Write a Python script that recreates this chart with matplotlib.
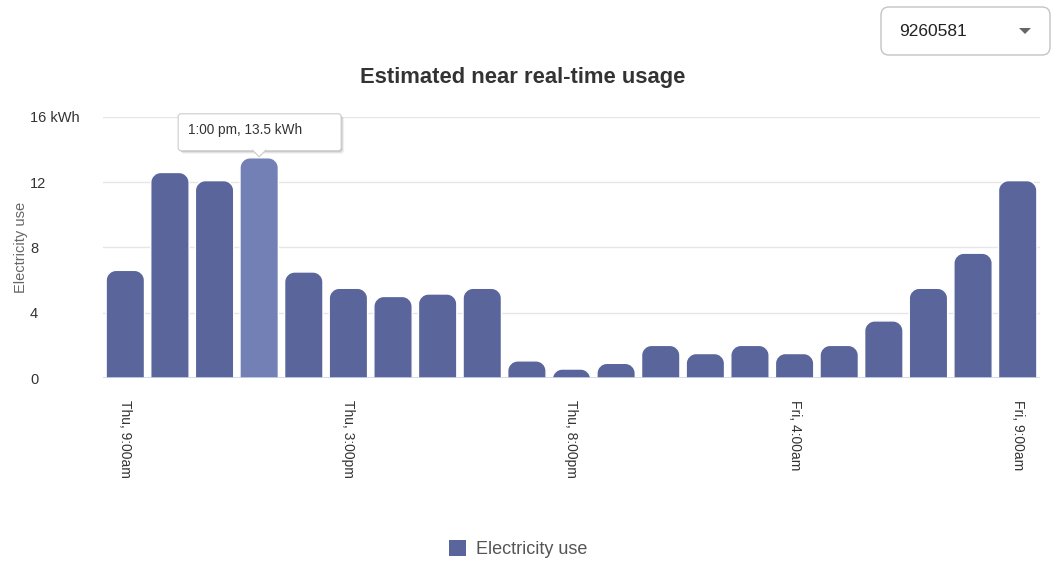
import matplotlib.pyplot as plt
from matplotlib.patches import FancyBboxPatch, Polygon, Patch, PathPatch
from matplotlib.path import Path
from matplotlib.transforms import IdentityTransform

plt.rcParams['font.family'] = ['Liberation Sans', 'DejaVu Sans']

# Data
usage = [6.6, 12.6, 12.1, 13.5, 6.5, 5.5, 5.0, 5.15, 5.5, 1.05, 0.55, 0.9,
         2.0, 1.5, 2.0, 1.5, 2.0, 3.5, 5.5, 7.65, 12.1]
tick_pos = [0, 5, 10, 15, 20]
tick_labels = ['Thu, 9:00am', 'Thu, 3:00pm', 'Thu, 8:00pm', 'Fri, 4:00am', 'Fri, 9:00am']
y_ticks = [0, 4, 8, 12, 16]
y_tick_labels = ['0', '4', '8', '12', '16 kWh']
hover = 3
hover_text = '1:00 pm, 13.5 kWh'
meter_id = '9260581'

bar_col = '#5a669b'
hover_col = '#7280b6'

W, H = 1051, 561
fig = plt.figure(figsize=(W / 100, H / 100), dpi=100)
ax = fig.add_axes([103 / W, 1 - 378 / H, (1040 - 103) / W, (378 - 117) / H])
ax.set_xlim(-0.5, len(usage) - 0.5)
ax.set_ylim(0, 16)

# pixels per data unit (for rounded corners)
p0 = ax.transData.transform((0, 0))
p1 = ax.transData.transform((1, 1))
sx, sy = p1 - p0


def rounded_bar(xc, top, width, r_px):
    # bar with rounded top corners, bottom runs below the axis and is clipped
    rx, ry = r_px / sx, r_px / sy
    x0, x1, b = xc - width / 2, xc + width / 2, -1
    k = 0.5523
    verts = [(x0, b), (x0, top - ry),
             (x0, top - ry + k * ry), (x0 + rx - k * rx, top), (x0 + rx, top),
             (x1 - rx, top),
             (x1 - rx + k * rx, top), (x1, top - ry + k * ry), (x1, top - ry),
             (x1, b), (x0, b)]
    codes = [Path.MOVETO, Path.LINETO,
             Path.CURVE4, Path.CURVE4, Path.CURVE4,
             Path.LINETO,
             Path.CURVE4, Path.CURVE4, Path.CURVE4,
             Path.LINETO, Path.CLOSEPOLY]
    return Path(verts, codes)


for i, v in enumerate(usage):
    col = hover_col if i == hover else bar_col
    ax.add_patch(PathPatch(rounded_bar(i, v, 0.86, 10), fc=col, ec='white',
                           lw=1, zorder=3))

ax.yaxis.grid(True, color='#e6e6e6', lw=1, zorder=0)
ax.axhline(0, color='#ccd6eb', lw=1.2, zorder=4)
for s in ax.spines.values():
    s.set_visible(False)

ax.set_yticks(y_ticks, y_tick_labels)
ax.tick_params(axis='y', length=0, pad=52.5, labelsize=10.5, labelcolor='#333333')
for t in ax.get_yticklabels():
    t.set_horizontalalignment('left')

ax.set_xticks(tick_pos, tick_labels, rotation=-90)
ax.tick_params(axis='x', length=0, pad=16, labelsize=10, labelcolor='#333333')

ax.set_ylabel('Electricity use', color='#666666', fontsize=10.5)
ax.yaxis.set_label_coords((28 - 103) / (1040 - 103), 0.5)

fig.text(523 / W, 1 - 77 / H, 'Estimated near real-time usage',
         ha='center', va='center', fontsize=15.8, fontweight='bold', color='#333333')

# tooltip over the hovered bar (pixel coords)
bx, by = ax.transData.transform((hover, usage[hover]))
bw, bh = 163, 37
b0 = by + 7
x0 = bx - 81
pix = IdentityTransform()
for k, a in [(3, 0.05), (2, 0.08), (1, 0.12)]:
    fig.add_artist(FancyBboxPatch((x0 + k, b0 - k), bw, bh,
                                  boxstyle='round,pad=0,rounding_size=3',
                                  fc='black', ec='none', alpha=a, transform=pix, zorder=9))
fig.add_artist(FancyBboxPatch((x0, b0), bw, bh,
                              boxstyle='round,pad=0,rounding_size=3',
                              fc='white', ec='#cccccc', lw=0.8, transform=pix, zorder=10))
fig.add_artist(Polygon([(bx - 7, b0 + 1), (bx, by + 1), (bx + 7, b0 + 1)], closed=False,
                       fc='white', ec='#cccccc', lw=0.8, transform=pix, zorder=11))
fig.text(x0 + 10, b0 + bh / 2 + 2, hover_text, ha='left', va='center', fontsize=9.8,
         color='#333333', transform=pix, zorder=12)

# meter selector box
fig.add_artist(FancyBboxPatch((881, H - 55), 169, 48,
                              boxstyle='round,pad=0,rounding_size=8',
                              fc='white', ec='#c4c4c4', lw=1, transform=pix))
fig.text(899, H - 31, meter_id, ha='left', va='center', fontsize=12.5,
         color='#222222', transform=pix)
fig.add_artist(Polygon([(1019, H - 28), (1031, H - 28), (1025, H - 34)],
                       fc='#666666', ec='none', transform=pix))

fig.legend(handles=[Patch(fc=bar_col)], labels=['Electricity use'], loc='center',
           bbox_to_anchor=(518 / W, 1 - 549 / H), frameon=False, fontsize=13,
           handlelength=0.95, handleheight=0.95, handletextpad=0.55,
           labelcolor='#555555')

fig.savefig('out.png', dpi=100)
